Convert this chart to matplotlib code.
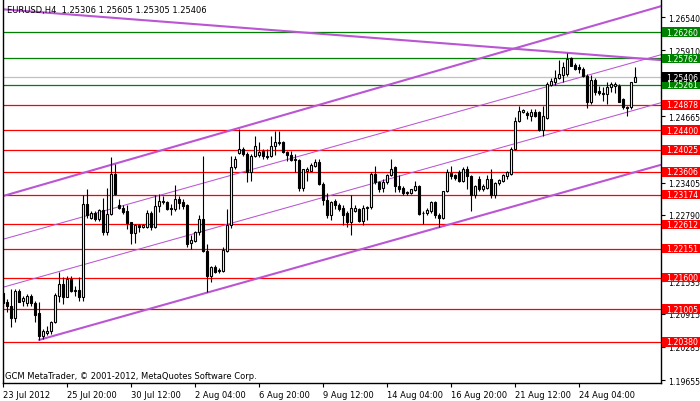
import numpy as np
import matplotlib
matplotlib.use("Agg")
import matplotlib.pyplot as plt
import matplotlib.transforms as mtransforms
from matplotlib.patches import Rectangle

title_text = "EURUSD,H4  1.25306 1.25605 1.25305 1.25406"
footer_text = "GCM MetaTrader, \u00a9 2001-2012, MetaQuotes Software Corp."

# H4 candles (bar 0 = 23 Jul 2012)
opens = [
    1.2131, 1.2114, 1.2107, 1.2083, 1.2134, 1.2115, 1.2112, 1.2126, 1.2112, 1.2093,
    1.2050, 1.2055, 1.2058, 1.2075, 1.2126, 1.2148, 1.2124, 1.2157, 1.2135, 1.2137,
    1.2123, 1.2300, 1.2274, 1.2282, 1.2271, 1.2288, 1.2246, 1.2281, 1.2357, 1.2298,
    1.2293, 1.2287, 1.2265, 1.2244, 1.2260, 1.2257, 1.2257, 1.2282, 1.2257, 1.2295,
    1.2303, 1.2304, 1.2292, 1.2290, 1.2310, 1.2303, 1.2297, 1.2225, 1.2230, 1.2247,
    1.2271, 1.2210, 1.2163, 1.2180, 1.2175, 1.2173, 1.2211, 1.2259, 1.2369, 1.2396,
    1.2405, 1.2395, 1.2360, 1.2390, 1.2393, 1.2401, 1.2391, 1.2390, 1.2410, 1.2415,
    1.2417, 1.2399, 1.2393, 1.2384, 1.2384, 1.2330, 1.2363, 1.2363, 1.2372, 1.2379,
    1.2338, 1.2307, 1.2279, 1.2306, 1.2298, 1.2293, 1.2283, 1.2266, 1.2287, 1.2290,
    1.2268, 1.2293, 1.2294, 1.2357, 1.2341, 1.2331, 1.2341, 1.2354, 1.2369, 1.2333,
    1.2331, 1.2323, 1.2321, 1.2327, 1.2333, 1.2283, 1.2282, 1.2287, 1.2303, 1.2279,
    1.2274, 1.2324, 1.2358, 1.2355, 1.2360, 1.2344, 1.2367, 1.2352, 1.2316, 1.2348,
    1.2328, 1.2331, 1.2348, 1.2316, 1.2339, 1.2344, 1.2352, 1.2357, 1.2405, 1.2457,
    1.2475, 1.2472, 1.2467, 1.2475, 1.2475, 1.2441, 1.2463, 1.2526, 1.2531, 1.2539,
    1.2544, 1.2546, 1.2576, 1.2563, 1.2559, 1.2556, 1.2543, 1.2494, 1.2535, 1.2515,
    1.2510, 1.2508, 1.2521, 1.2524, 1.2524, 1.2499, 1.2483, 1.2483, 1.25306,
]
highs = [
    1.2133, 1.2120, 1.2138, 1.2138, 1.2138, 1.2126, 1.2129, 1.2129, 1.2116, 1.2113,
    1.2063, 1.2069, 1.2078, 1.2131, 1.2170, 1.2161, 1.2163, 1.2164, 1.2145, 1.2161,
    1.2316, 1.2328, 1.2287, 1.2287, 1.2290, 1.2312, 1.2331, 1.2388, 1.2376, 1.2309,
    1.2297, 1.2298, 1.2266, 1.2262, 1.2262, 1.2262, 1.2288, 1.2287, 1.2316, 1.2319,
    1.2314, 1.2305, 1.2300, 1.2335, 1.2314, 1.2309, 1.2300, 1.2240, 1.2249, 1.2279,
    1.2391, 1.2224, 1.2183, 1.2184, 1.2178, 1.2218, 1.2290, 1.2391, 1.2391, 1.2442,
    1.2407, 1.2398, 1.2395, 1.2428, 1.2417, 1.2404, 1.2404, 1.2429, 1.2439, 1.2439,
    1.2419, 1.2401, 1.2401, 1.2395, 1.2385, 1.2367, 1.2369, 1.2378, 1.2385, 1.2385,
    1.2342, 1.2321, 1.2306, 1.2309, 1.2302, 1.2297, 1.2287, 1.2316, 1.2297, 1.2293,
    1.2297, 1.2295, 1.2360, 1.2372, 1.2344, 1.2347, 1.2357, 1.2385, 1.2372, 1.2354,
    1.2333, 1.2325, 1.2329, 1.2344, 1.2336, 1.2287, 1.2292, 1.2306, 1.2306, 1.2283,
    1.2325, 1.2367, 1.2371, 1.2357, 1.2365, 1.2369, 1.2372, 1.2355, 1.2336, 1.2352,
    1.2338, 1.2354, 1.2366, 1.2342, 1.2348, 1.2357, 1.2363, 1.2407, 1.2464, 1.2486,
    1.2480, 1.2477, 1.2479, 1.2479, 1.2477, 1.2486, 1.2531, 1.2538, 1.2553, 1.2572,
    1.2570, 1.2586, 1.2578, 1.2567, 1.2565, 1.2559, 1.2546, 1.2544, 1.2538, 1.2524,
    1.2521, 1.2532, 1.2532, 1.2532, 1.2527, 1.2500, 1.2486, 1.2532, 1.25605,
]
lows = [
    1.2104, 1.2094, 1.2066, 1.2075, 1.2113, 1.2107, 1.2107, 1.2107, 1.2075, 1.2042,
    1.2044, 1.2051, 1.2053, 1.2074, 1.2113, 1.2110, 1.2123, 1.2132, 1.2126, 1.2116,
    1.2116, 1.2274, 1.2271, 1.2268, 1.2268, 1.2241, 1.2241, 1.2278, 1.2316, 1.2290,
    1.2281, 1.2252, 1.2223, 1.2226, 1.2247, 1.2255, 1.2255, 1.2251, 1.2254, 1.2284,
    1.2300, 1.2289, 1.2279, 1.2287, 1.2290, 1.2290, 1.2218, 1.2214, 1.2227, 1.2240,
    1.2208, 1.2133, 1.2151, 1.2169, 1.2169, 1.2171, 1.2209, 1.2255, 1.2366, 1.2395,
    1.2391, 1.2341, 1.2344, 1.2388, 1.2388, 1.2386, 1.2386, 1.2388, 1.2393, 1.2412,
    1.2396, 1.2382, 1.2382, 1.2360, 1.2325, 1.2325, 1.2344, 1.2362, 1.2369, 1.2336,
    1.2298, 1.2274, 1.2270, 1.2290, 1.2287, 1.2259, 1.2256, 1.2240, 1.2284, 1.2265,
    1.2259, 1.2270, 1.2291, 1.2338, 1.2323, 1.2323, 1.2338, 1.2352, 1.2323, 1.2322,
    1.2317, 1.2317, 1.2319, 1.2325, 1.2278, 1.2262, 1.2279, 1.2282, 1.2274, 1.2257,
    1.2271, 1.2322, 1.2347, 1.2345, 1.2341, 1.2341, 1.2329, 1.2287, 1.2312, 1.2325,
    1.2325, 1.2328, 1.2311, 1.2311, 1.2336, 1.2342, 1.2348, 1.2355, 1.2403, 1.2455,
    1.2472, 1.2461, 1.2458, 1.2464, 1.2439, 1.2429, 1.2461, 1.2524, 1.2525, 1.2536,
    1.2532, 1.2543, 1.2561, 1.2553, 1.2548, 1.2540, 1.2481, 1.2489, 1.2507, 1.2507,
    1.2496, 1.2489, 1.2513, 1.2510, 1.2493, 1.2480, 1.2466, 1.2479, 1.25305,
]
closes = [
    1.2112, 1.2106, 1.2083, 1.2134, 1.2114, 1.2121, 1.2126, 1.2112, 1.2090, 1.2050,
    1.2058, 1.2059, 1.2076, 1.2127, 1.2148, 1.2124, 1.2157, 1.2135, 1.2137, 1.2123,
    1.2300, 1.2278, 1.2282, 1.2271, 1.2288, 1.2246, 1.2281, 1.2357, 1.2319, 1.2293,
    1.2285, 1.2264, 1.2244, 1.2260, 1.2257, 1.2260, 1.2283, 1.2257, 1.2295, 1.2305,
    1.2306, 1.2290, 1.2290, 1.2310, 1.2302, 1.2295, 1.2224, 1.2231, 1.2247, 1.2271,
    1.2211, 1.2163, 1.2180, 1.2171, 1.2172, 1.2212, 1.2259, 1.2369, 1.2386, 1.2405,
    1.2395, 1.2360, 1.2390, 1.2410, 1.2398, 1.2390, 1.2389, 1.2409, 1.2417, 1.2418,
    1.2398, 1.2393, 1.2384, 1.2386, 1.2330, 1.2366, 1.2366, 1.2374, 1.2379, 1.2338,
    1.2307, 1.2279, 1.2303, 1.2297, 1.2290, 1.2279, 1.2266, 1.2292, 1.2292, 1.2268,
    1.2293, 1.2294, 1.2357, 1.2341, 1.2329, 1.2341, 1.2354, 1.2367, 1.2333, 1.2328,
    1.2320, 1.2320, 1.2328, 1.2333, 1.2281, 1.2282, 1.2288, 1.2303, 1.2278, 1.2274,
    1.2324, 1.2360, 1.2352, 1.2350, 1.2344, 1.2367, 1.2352, 1.2316, 1.2333, 1.2328,
    1.2333, 1.2348, 1.2316, 1.2340, 1.2345, 1.2354, 1.2360, 1.2405, 1.2458, 1.2477,
    1.2478, 1.2469, 1.2475, 1.2467, 1.2441, 1.2466, 1.2527, 1.2534, 1.2539, 1.2546,
    1.2559, 1.2575, 1.2562, 1.2555, 1.2555, 1.2543, 1.2494, 1.2535, 1.2512, 1.2510,
    1.2508, 1.2521, 1.2527, 1.2527, 1.2494, 1.2483, 1.2482, 1.2531, 1.25406,
]

xtick_bars = [0, 16, 32, 48, 64, 80, 96, 112, 128, 144]
xtick_labels = ["23 Jul 2012", "25 Jul 20:00", "30 Jul 12:00", "2 Aug 04:00",
                "6 Aug 20:00", "9 Aug 12:00", "14 Aug 04:00", "16 Aug 20:00",
                "21 Aug 12:00", "24 Aug 04:00"]
ytick_values = [1.26540, 1.25910, 1.25285, 1.24665, 1.24035, 1.23405,
                1.22790, 1.22160, 1.21535, 1.20915, 1.20285, 1.19655]

green_levels = [1.26260, 1.25762, 1.25261]
red_levels = [1.24878, 1.24400, 1.24025, 1.23606, 1.23174, 1.22612,
              1.22151, 1.21600, 1.21005, 1.20380]
bid_level = 1.25406

# trend lines as (bar, price) anchor pairs
desc_line = [(0, 1.2669), (164, 1.2573)]
upper_line = [(0, 1.2315), (164, 1.2674)]
mid_line_b = [(0, 1.2233), (164, 1.2582)]
mid_line_a = [(0, 1.2142), (164, 1.2491)]
lower_ray = [(9, 1.2042), (164.4, 1.2374)]

ORCHID = "#BA55D3"
RED = "#FF0000"
GREEN = "#008000"
SCALE_FS = 5.6

fig = plt.figure(figsize=(7, 4.02), dpi=100)
ax = fig.add_axes([3 / 700, 18 / 402, 658 / 700, 384 / 402])
ax.set_xlim(-0.075, 164.43)
ax.set_ylim(1.19602, 1.26886)

# horizontal levels
for lv in red_levels:
    ax.axhline(lv, color=RED, lw=0.9, zorder=1)
for lv in green_levels:
    ax.axhline(lv, color=GREEN, lw=0.9, zorder=1)
ax.axhline(bid_level, color="#C0C0C0", lw=0.9, zorder=1)

# trend lines
for pts, lw in [(desc_line, 1.5), (upper_line, 1.5), (mid_line_b, 0.75), (mid_line_a, 0.75)]:
    ax.axline(pts[0], pts[1], color=ORCHID, lw=lw, zorder=2)
ax.plot([p[0] for p in lower_ray], [p[1] for p in lower_ray], color=ORCHID, lw=1.5, zorder=2)

# candles
o = np.array(opens)
h = np.array(highs)
l = np.array(lows)
c = np.array(closes)
x = np.arange(len(o))
up = c >= o
bottom = np.minimum(o, c)
height = np.abs(c - o)

ax.vlines(x, l, h, color="black", lw=0.8, zorder=3)
ax.bar(x[up], height[up], bottom=bottom[up], width=0.5, facecolor="white",
       edgecolor="black", linewidth=0.8, zorder=4)
ax.bar(x[~up], height[~up], bottom=bottom[~up], width=0.5, facecolor="black",
       edgecolor="black", linewidth=0.8, zorder=4)

# axes styling
for side in ["left", "bottom", "right"]:
    ax.spines[side].set_color("black")
    ax.spines[side].set_linewidth(1.0)
ax.spines["top"].set_visible(False)

ax.yaxis.tick_right()
ax.set_yticks(ytick_values)
ax.set_yticklabels(["%.5f" % v for v in ytick_values])
ax.tick_params(axis="y", direction="out", length=3, width=0.8, pad=2,
               labelsize=SCALE_FS, colors="black")

ax.set_xticks(xtick_bars)
ax.set_xticklabels(xtick_labels)
ax.tick_params(axis="x", direction="out", length=3, width=0.8, pad=2,
               labelsize=6, colors="black")
for lab in ax.get_xticklabels():
    lab.set_horizontalalignment("left")

# price labels at the right
trans = mtransforms.blended_transform_factory(ax.transAxes, ax.transData)
labels = [(lv, RED) for lv in red_levels] + [(lv, GREEN) for lv in green_levels] + [(bid_level, "black")]
for lv, col in labels:
    ax.add_patch(Rectangle((1.0015, lv - 0.00089), 0.058, 0.00178, transform=trans,
                           facecolor=col, edgecolor="none", clip_on=False, zorder=9))
    ax.text(1.0075, lv, "%.5f" % lv, transform=trans, color="white", fontsize=SCALE_FS,
            ha="left", va="center", clip_on=False, zorder=10)

fig.text(7 / 700, 1 - 11 / 402, title_text, fontsize=6, ha="left", va="center", zorder=1)
fig.text(5 / 700, 1 - 377 / 402, footer_text, fontsize=6, ha="left", va="center")

fig.savefig("out.png", dpi=100, facecolor="white")
